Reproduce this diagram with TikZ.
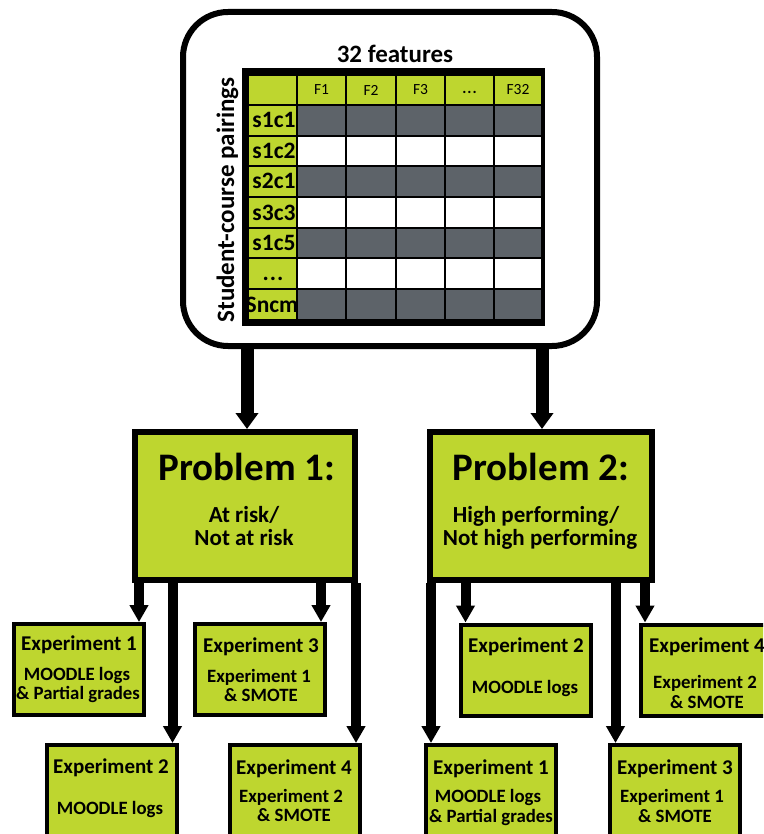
\documentclass[tikz,border=0pt]{standalone}
\usepackage{fontspec}
\setmainfont{Carlito}
\usetikzlibrary{arrows.meta,calc}
\definecolor{lime}{RGB}{190,214,47}
\definecolor{slate}{RGB}{93,99,105}
\newcommand{\fsz}[1]{\fontsize{#1}{#1}\selectfont}
\begin{document}
\begin{tikzpicture}[x=1pt,y=-1pt,
  box/.style={draw=black, fill=lime, inner sep=0pt, line width=4pt},
  probbox/.style={box, line width=6pt, minimum width=#1, minimum height=148pt},
  expbox/.style={box, minimum width=130pt, minimum height=91pt},
  lowbox/.style={box, minimum width=130pt, minimum height=135pt},
  bigarr/.style={line width=13pt, -{Triangle[width=22pt,length=16pt]}},
  arr/.style={line width=10pt, -{Triangle[width=18pt,length=17pt]}},
  lbl/.style={anchor=base, inner sep=0pt, text=black},
  head/.style={lbl, font=\fsz{39}\bfseries},
  sub/.style={lbl, font=\fsz{23}\bfseries},
  etitle/.style={lbl, font=\fsz{21}\bfseries},
  etext/.style={lbl, font=\fsz{18.8}\bfseries},
  rowlbl/.style={lbl, font=\fsz{23.5}\bfseries},
  collbl/.style={anchor=center, inner sep=0pt, font=\fsz{15.5}},
]
\useasboundingbox (0,0) rectangle (763,834);
\clip (0,0) rectangle (763,834);

% data set frame
\node[draw=black, fill=white, line width=6pt, rounded corners=45pt,
      minimum width=414pt, minimum height=334pt, inner sep=0pt] (data) at (390,179) {};

% feature table
\fill[black] (242,68) rectangle (545,326);
\foreach \xa/\xb in {248/297,297/346,346/396,396/445,445/494,494/542}
  \fill[lime] (\xa+1,76) rectangle (\xb-1,104);
\foreach \ya/\yb/\c in {105/136/slate,136/166/white,166/197/slate,197/228/white,228/258/slate,258/289/white,289/320/slate}{
  \fill[lime] (249,\ya+1) rectangle (296,\yb-1);
  \foreach \xa/\xb in {297/346,346/396,396/445,445/494,494/542}
    \fill[\c] (\xa+1,\ya+1) rectangle (\xb-1,\yb-1);
}
\node[collbl] (f1) at (321.5,90) {F1};
\node[collbl] (f2) at (371,90) {F2};
\node[collbl] (f3) at (420.5,90) {F3};
\node[collbl, font=\fsz{15.5}\bfseries] (fd) at (469.5,92) {.\kern1pt.\kern1pt.};
\node[collbl] (f32) at (518,90) {F32};
\node[rowlbl] (r1) at (274,128) {s1c1};
\node[rowlbl] (r2) at (274,159) {s1c2};
\node[rowlbl] (r3) at (274,189) {s2c1};
\node[rowlbl] (r4) at (274,220) {s3c3};
\node[rowlbl] (r5) at (274,251) {s1c5};
\node[rowlbl] (r6) at (273,280) {.\kern1pt.\kern1pt.};
\node[rowlbl] (r7) at (272,312) {Sncm};
\node[lbl, font=\fsz{25}\bfseries] (feat) at (395,63) {32 features};
\node[lbl, font=\fsz{25}\bfseries, rotate=90] (pairs) at (234,200) {Student-course pairings};

% problem boxes
\node[probbox=220pt] (p1) at (245,506) {};
\node[probbox=222pt] (p2) at (541,506) {};
\node[head] (p1t) at (247,480) {Problem 1:};
\node[sub] (p1a) at (244,522) {At risk/};
\node[sub] (p1b) at (244,545) {Not at risk};
\node[head] (p2t) at (541,480) {Problem 2:};
\node[sub] (p2a) at (536,522) {High performing/};
\node[sub] (p2b) at (540,545) {Not high performing};

\draw[bigarr] (data.south -| 247,0) -- (p1.north -| 247,0);
\draw[bigarr] (data.south -| 542,0) -- (p2.north -| 542,0);

% experiment boxes, first problem
\node[expbox] (a1) at (79,669.5) {};
\node[expbox] (a3) at (260,669.5) {};
\node[lowbox] (a2) at (111.5,812.5) {};
\node[lowbox] (a4) at (295,812.5) {};
% experiment boxes, second problem
\node[expbox] (b2) at (525.5,670) {};
\node[expbox] (b4) at (706,670) {};
\node[lowbox] (b1) at (491,812.5) {};
\node[lowbox] (b3) at (674.5,812.5) {};

\coordinate (a1in) at ($(a1.north east)+(-7,0)$);
\coordinate (a3in) at ($(a3.north east)+(-6,0)$);
\coordinate (a2in) at ($(a2.north east)+(-6,0)$);
\coordinate (a4in) at ($(a4.north east)+(-6,0)$);
\coordinate (b2in) at ($(b2.north west)+(7,0)$);
\coordinate (b4in) at ($(b4.north west)+(6,0)$);
\coordinate (b1in) at ($(b1.north west)+(7,0)$);
\coordinate (b3in) at ($(b3.north west)+(8,0)$);

\draw[arr] (p1.south -| a1in) -- (a1in);
\draw[arr] (p1.south -| a2in) -- (a2in);
\draw[arr] (p1.south -| a3in) -- (a3in);
\draw[arr] (p1.south -| a4in) -- (a4in);
\draw[arr] (p2.south -| b1in) -- (b1in);
\draw[arr] (p2.south -| b2in) -- (b2in);
\draw[arr] (p2.south -| b3in) -- (b3in);
\draw[arr] (p2.south -| b4in) -- (b4in);

% experiment texts
\node[etitle] (a1t) at (79,650) {Experiment 1};
\node[etext] (a1a) at (77,680) {MOODLE logs};
\node[etext] (a1b) at (78,699) {\& Partial grades};
\node[etitle] (a3t) at (261,652) {Experiment 3};
\node[etext] (a3a) at (259,682) {Experiment 1};
\node[etext] (a3b) at (261,701) {\& SMOTE};
\node[etitle] (a2t) at (111,773) {Experiment 2};
\node[etext] (a2a) at (110,814) {MOODLE logs};
\node[etitle] (a4t) at (294,774) {Experiment 4};
\node[etext] (a4a) at (291,802) {Experiment 2};
\node[etext] (a4b) at (294,821) {\& SMOTE};

\node[etitle] (b2t) at (526,652) {Experiment 2};
\node[etext] (b2a) at (525,693) {MOODLE logs};
\node[etitle] (b4t) at (707,652) {Experiment 4};
\node[etext] (b4a) at (705,688) {Experiment 2};
\node[etext] (b4b) at (707,708) {\& SMOTE};
\node[etitle] (b1t) at (491,774) {Experiment 1};
\node[etext] (b1a) at (488,802) {MOODLE logs};
\node[etext] (b1b) at (491,822) {\& Partial grades};
\node[etitle] (b3t) at (675,774) {Experiment 3};
\node[etext] (b3a) at (672,802) {Experiment 1};
\node[etext] (b3b) at (675,822) {\& SMOTE};
\end{tikzpicture}
\end{document}
